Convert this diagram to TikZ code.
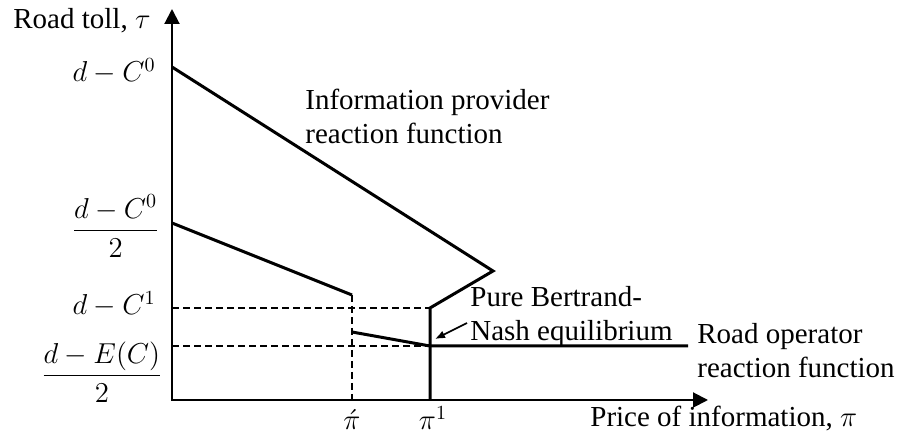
\documentclass[tikz,border=0pt]{standalone}
\usepackage{amsmath}
\usepackage{fontspec}
\setmainfont{Liberation Serif}
\usetikzlibrary{arrows.meta}
\tikzset{reaction/.style={line width=1.5pt}, guide/.style={dash pattern=on 3.5pt off 2pt, line width=0.6pt}, lbl/.style={inner sep=0pt}}

\begin{document}
\begin{tikzpicture}[x=0.5pt,y=-0.5pt,font=\fontsize{14.5}{17}\selectfont]
                 \useasboundingbox (0,0) rectangle (901,442);
                 % axes
                 \coordinate (O) at (172,400);
                 \coordinate (ytop) at (172,9);
                 \coordinate (xend) at (708,400);
                 \draw[line width=1pt,{Triangle[length=7.5pt,width=7.5pt]}-{Triangle[length=7.5pt,width=7.5pt]}](ytop)--(O)--(xend);

                 % reaction functions
                 \coordinate (A) at (172,67);
                 \coordinate (K) at (493,271);
                 \coordinate (P1) at (430,308);
                 \coordinate (E) at (430,346);
                 \coordinate (B) at (172,223);
                 \coordinate (Q) at (352,295);
                 \coordinate (R) at (352,332);
                 \coordinate (Rend) at (688,346);
                 \draw[reaction](A)--(K)--(P1)--(P1|-O);
                 \draw[reaction](B)--(Q);
                 \draw[reaction](R)--(E)--(Rend);

                 \draw[guide](O|-P1)--(P1);
                 \draw[guide](O|-E)--(E);
                 \draw[guide](Q)--(Q|-O);

                 % labels
                 \node[lbl,anchor=base west](ylab) at (13,29){Road toll, $\tau$};
                 \node[lbl,anchor=base east](tA) at (156,82){$d-C^0$};
                 \node[lbl,anchor=east](tB) at (160,226){$\dfrac{d-C^0}{2}$};
                 \node[lbl,anchor=base east](tP) at (156,315){$d-C^1$};
                 \node[lbl,anchor=east](tE) at (163,372){$\dfrac{d-E(C)}{2}$};
                 \node[lbl,anchor=base](pa) at (352,430){$\acute{\pi}$};
                 \node[lbl,anchor=base](p1) at (433,430){$\pi^1$};
                 \node[lbl,anchor=base west](xlab) at (590,427){Price of information, $\pi$};
                 \node[lbl,anchor=base west,align=left](info) at (305,144){Information provider\\reaction function};
                 \node[lbl,anchor=base west,align=left](road) at (697,378){Road operator\\reaction function};
                 \node[lbl,anchor=base west,align=left](nash) at (470,341){Pure Bertrand-\\Nash equilibrium};
                 \coordinate (tail) at (467,323);
                 \draw[line width=0.8pt,-{Latex[length=5pt,width=4pt]}](tail)--(435,339);
             \end{tikzpicture}
\end{document}
